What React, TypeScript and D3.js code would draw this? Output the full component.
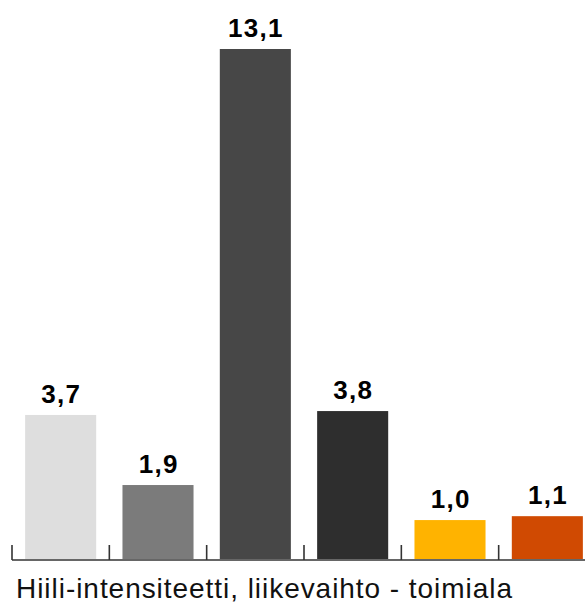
import React, { useEffect, useRef } from "react";
import * as d3 from "d3";

const categories = ["A", "B", "C", "D", "E", "F"];
const values = [3.7, 1.9, 13.1, 3.8, 1.0, 1.1];
const colors = ["#dedede", "#7b7b7b", "#474747", "#2e2e2e", "#ffb300", "#d04a02"];
const labels = ["3,7", "1,9", "13,1", "3,8", "1,0", "1,1"];
const axisTitle = "Hiili-intensiteetti, liikevaihto - toimiala";

export default function App() {
  const ref = useRef<SVGSVGElement>(null);
  useEffect(() => {
    const svg = d3.select(ref.current);
    svg.selectAll("*").remove();
    const x0 = 12, x1 = 596;
    const base = 559;
    const x = d3.scaleBand<string>().domain(categories).range([x0, x1]).paddingInner(0.27).paddingOuter(0.135);
    const y = d3.scaleLinear().domain([0, 13.1]).range([base, 49]);
    const step = (x1 - x0) / categories.length;
    const ls = 1.3;

    svg.selectAll("rect.bar").data(values).enter().append("rect")
      .attr("x", (_, i) => x(categories[i])!)
      .attr("width", x.bandwidth())
      .attr("y", d => y(d))
      .attr("height", d => base - y(d))
      .attr("fill", (_, i) => colors[i]);

    svg.selectAll("text.val").data(values).enter().append("text")
      .attr("x", (_, i) => x(categories[i])! + x.bandwidth() / 2 + ls / 2)
      .attr("y", d => y(d) - 12)
      .attr("text-anchor", "middle")
      .attr("font-family", "Liberation Sans, Arial, sans-serif")
      .attr("font-weight", "bold")
      .attr("font-size", 26)
      .attr("letter-spacing", ls)
      .attr("fill", "#000")
      .text((_, i) => labels[i]);

    const g = svg.append("g");
    g.append("line").attr("x1", x0).attr("x2", x1).attr("y1", base + 1).attr("y2", base + 1)
      .attr("stroke", "#333").attr("stroke-width", 1.6);
    d3.range(categories.length + 1).forEach(i => {
      const tx = x0 + i * step;
      g.append("line").attr("x1", tx).attr("x2", tx).attr("y1", base + 1).attr("y2", base - 14)
        .attr("stroke", "#333").attr("stroke-width", 1.6);
    });

    svg.append("text")
      .attr("x", 16)
      .attr("y", 598)
      .attr("font-family", "Liberation Sans, Arial, sans-serif")
      .attr("font-size", 28)
      .attr("textLength", 496)
      .attr("lengthAdjust", "spacing")
      .attr("fill", "#111")
      .text(axisTitle);
  }, []);
  return (
    <svg ref={ref} width={585} height={604}
      style={{ position: "absolute", left: 0, top: 0, display: "block", background: "#fff" }} />
  );
}
